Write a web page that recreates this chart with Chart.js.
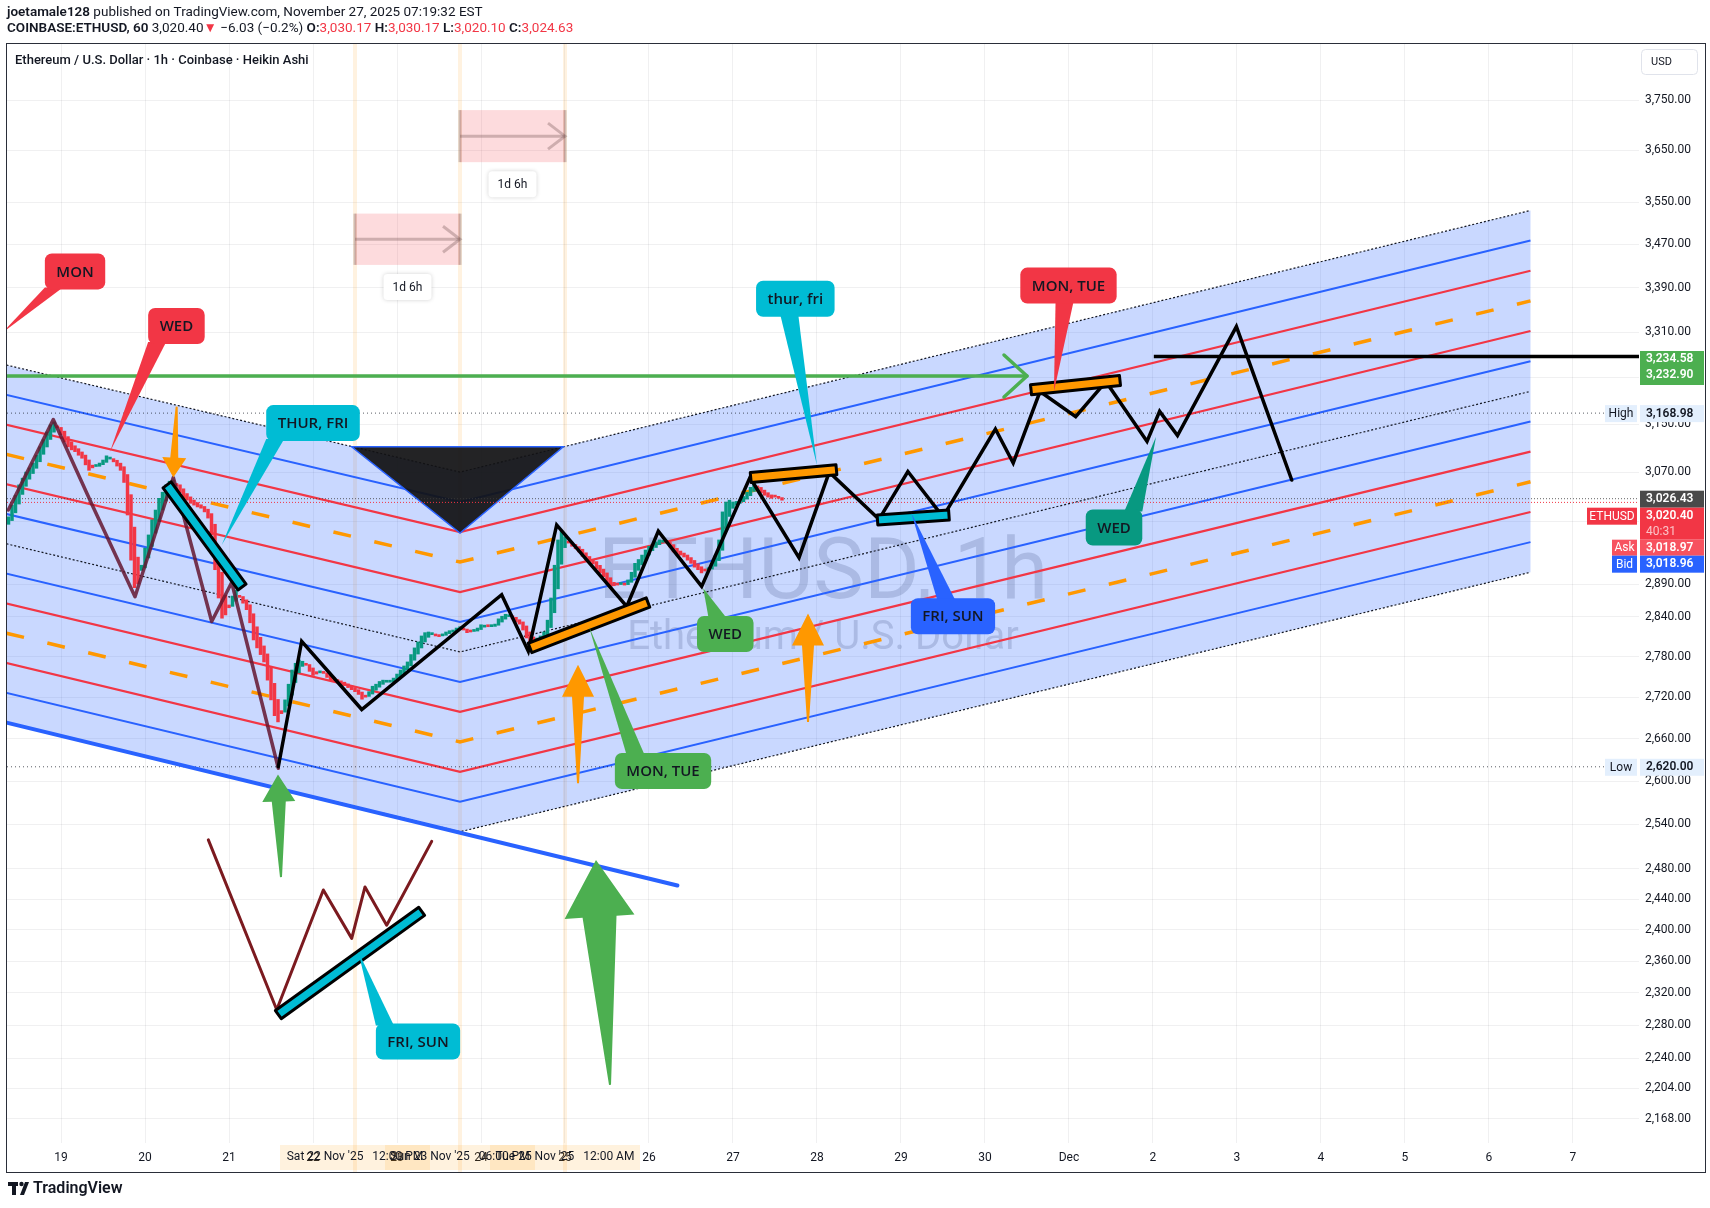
<!DOCTYPE html>
<html>
<head>
<meta charset="utf-8">
<script src="https://cdn.jsdelivr.net/npm/chart.js@4.4.1/dist/chart.umd.min.js"></script>
<style>
  html, body { margin: 0; padding: 0; background: #fff; overflow: hidden; }
  #wrap { width: 1710px; height: 1208px; }
</style>
</head>
<body>
<div id="wrap"><canvas id="chart" width="1710" height="1208"></canvas></div>
<script>
// ---------- data (days are November dates; 31 = Dec 1) ----------
const candleStart = 18.375;          // first hourly candle, Nov 18 09:00
const firstOpen = 2985;
const closes = [
  2997,3016,3032,3049,3060,3070,3077,3085,3098,3112,
  3124,3137,3149,3154,3144,3132,3120,3112,3107,3104,
  3098,3093,3082,3073,3077,3080,3085,3090,3097,3093,
  3087,3080,3073,3053,3000,2928,2885,2891,2920,2947,
  2968,2992,3008,3027,3037,3049,3055,3057,3047,3036,
  3027,3024,3019,3016,3013,3011,3005,2995,2968,2913,
  2869,2838,2843,2854,2872,2881,2870,2861,2851,2831,
  2805,2793,2783,2772,2745,2716,2693,2684,2696,2716,
  2739,2760,2770,2775,2773,2767,2758,2752,2754,2757,
  2755,2749,2745,2743,2742,2740,2737,2734,2731,2728,
  2724,2717,2720,2728,2736,2739,2743,2745,2742,2743,
  2748,2754,2760,2766,2772,2783,2793,2802,2811,2816,
  2817,2814,2811,2810,2813,2817,2819,2820,2823,2825,
  2820,2816,2817,2819,2823,2828,2826,2825,2826,2829,
  2837,2841,2844,2843,2837,2832,2829,2820,2808,2802,
  2800,2805,2811,2817,2835,2869,2920,2960,2974,2965,
  2955,2950,2946,2941,2934,2928,2925,2922,2914,2908,
  2902,2893,2886,2888,2889,2891,2889,2897,2909,2923,
  2929,2936,2944,2950,2953,2957,2960,2958,2955,2949,
  2941,2938,2936,2933,2928,2923,2917,2913,2908,2911,
  2916,2923,2936,2960,3005,3021,3024,3021,3022,3024,
  3030,3037,3045,3053,3044,3036,3032,3029,3027,3029,
  3027,3024
];

const dayTicks = [19,20,21,22,23,24,25,26,27,28,29,30,31,32,33,34,35,36,37];
const priceTicks = [3750,3650,3550,3470,3390,3310,3230,3150,3070,2990,2890,2840,2780,2720,2660,2600,2540,2480,2440,2400,2360,2320,2280,2240,2204,2168];

// V-shaped channel: left edge, apex, right end
const channelDays = [18.351, 23.75, 36.494];
const channelTop = [3252, 3070, 3534];
const channelBottom = [2683, 2530, 2909];
const channelStyles = ['dot','blue','red','orange','red','blue','dot','blue','red','orange','red','blue','dot'];

const trendDays = [18.351, 26.338];
const trendPrices = [2683, 2458];

const triDays = [22.46, 24.98, 23.75];
const triPrices = [3112, 3112, 2971];

const greenLevel = 3232.90, greenDays = [18.351, 30.5];
const blackLevel = 3267, blackDays = [32.01, 37.79];

const highPrice = 3168.98, lowPrice = 2620.00, lastClose = 3026.43, lastPrice = 3020.40;

const maroonDays = [18.373, 18.908, 19.385, 19.881, 20.337, 20.794, 21.032, 21.587];
const maroonPrices = [3008, 3158, 3012, 2871, 3061, 2833, 2893, 2618];

const wDays = [20.754, 21.568, 22.123, 22.461, 22.619, 22.877, 23.413];
const wPrices = [2519, 2299, 2452, 2389, 2456, 2406, 2517];

const pathDays = [21.587, 21.865, 22.580, 24.246, 24.563, 24.901, 25.735, 26.111, 26.627, 27.202, 27.786, 28.146, 28.738, 29.082, 29.500, 30.124, 30.336, 30.655, 31.080, 31.440, 31.929, 32.079, 32.292, 32.993, 33.652];
const pathPrices = [2620, 2803, 2702, 2874, 2788, 2984, 2856, 2974, 2887, 3061, 2932, 3070, 2993, 3071, 2997, 3142, 3085, 3206, 3163, 3223, 3121, 3172, 3131, 3320, 3057];

// highlighted slabs: start day/price, end day/price
const slabStartDay = [20.262, 24.583, 27.211, 28.720, 30.548, 21.587];
const slabStartPrice = [3049, 2793, 3061, 2992, 3209, 2293];
const slabEndDay = [21.155, 25.988, 28.231, 29.571, 31.607, 23.294];
const slabEndPrice = [2886, 2862, 3074, 3000, 3225, 2424];
const slabColor = ['#00bcd4', '#ff9800', '#ff9800', '#00bcd4', '#ff9800', '#00bcd4'];

// arrow markers: tail -> tip
const arrowTailDay = [20.377, 21.619, 25.536, 25.155, 27.893];
const arrowTailPrice = [3180, 2469, 2208, 2597, 2684];
const arrowTipDay = [20.337, 21.583, 25.369, 25.155, 27.893];
const arrowTipPrice = [3061, 2609, 2492, 2768, 2845];
const arrowColor = ['#ff9800', '#4caf50', '#4caf50', '#ff9800', '#ff9800'];
const arrowSize = [[20, 24, 8], [27, 33, 14], [57, 70, 34], [32, 32, 12], [32, 32, 12]];

// callouts
const calloutText = ['MON', 'WED', 'THUR, FRI', 'thur, fri', 'MON, TUE', 'FRI, SUN', 'WED', 'WED', 'MON, TUE', 'FRI, SUN'];
const calloutColor = ['#f23645', '#f23645', '#00bcd4', '#00bcd4', '#f23645', '#2962ff', '#089981', '#4caf50', '#4caf50', '#00bcd4'];
const calloutBoxDay = [19.167, 20.374, 22.0, 27.742, 30.994, 29.619, 31.536, 26.908, 26.167, 23.25];
const calloutBoxPrice = [3420, 3321, 3152, 3370, 3394, 2841, 2980, 2814, 2614, 2260];
const calloutTipDay = [18.30, 19.583, 20.913, 27.998, 30.821, 29.124, 32.036, 26.646, 25.286, 22.539];
const calloutTipPrice = [3309, 3104, 2952, 3082, 3206, 3003, 3129, 2884, 2825, 2372];
const calloutBase = [0, 0, 0, 0.4, 0.45, 0.4, 1, 0.3, 0.15, 0];

// date ranges (1d 6h)
const rangeStart = [22.5, 23.75];
const rangeEnd = [23.75, 25.0];
const rangeTop = [3528, 3730];
const rangeBottom = [3432, 3627];
const rangeLabel = '1d 6h';
const markerDays = [22.5, 23.75, 25.0];
const markerLabels = ["Sat 22 Nov '25   12:00 PM", "Sun 23 Nov '25   06:00 PM", "Tue 25 Nov '25   12:00 AM"];

// ---------- candles (Heikin Ashi opens) ----------
const opens = [];
closes.forEach((c, i) => {
  opens.push(i === 0 ? firstOpen : (opens[i - 1] + closes[i - 1]) / 2);
});
const UP = '#089981', DOWN = '#f23645';
const candleData = closes.map((c, i) => ({ x: candleStart + i / 24, y: [opens[i], c] }));
const candleColors = closes.map((c, i) => c >= opens[i] ? UP : DOWN);

const fmt = v => v.toLocaleString('en-US', { minimumFractionDigits: 2, maximumFractionDigits: 2 });
const dayLabel = d => d === 31 ? 'Dec' : String(d > 31 ? d - 30 : d);
const TEXT = '#131722';

function rrect(ctx, x, y, w, h, r) {
  ctx.beginPath();
  ctx.moveTo(x + r, y);
  ctx.arcTo(x + w, y, x + w, y + h, r);
  ctx.arcTo(x + w, y + h, x, y + h, r);
  ctx.arcTo(x, y + h, x, y, r);
  ctx.arcTo(x, y, x + w, y, r);
  ctx.closePath();
}

function polyline(ctx, pts) {
  ctx.beginPath();
  pts.forEach((p, i) => i ? ctx.lineTo(p[0], p[1]) : ctx.moveTo(p[0], p[1]));
}

function arrowShape(ctx, x0, y0, x1, y1, size, color) {
  const [headLen, headW, shaftW] = size;
  const L = Math.hypot(x1 - x0, y1 - y0);
  const ux = (x1 - x0) / L, uy = (y1 - y0) / L, nx = -uy, ny = ux;
  const bx = x1 - ux * headLen, by = y1 - uy * headLen;
  polyline(ctx, [
    [x0 + nx, y0 + ny],
    [bx + nx * shaftW / 2, by + ny * shaftW / 2],
    [bx + nx * headW / 2, by + ny * headW / 2],
    [x1, y1],
    [bx - nx * headW / 2, by - ny * headW / 2],
    [bx - nx * shaftW / 2, by - ny * shaftW / 2],
    [x0 - nx, y0 - ny]
  ]);
  ctx.closePath();
  ctx.fillStyle = color;
  ctx.fill();
}

function slab(ctx, x0, y0, x1, y1, color) {
  const L = Math.hypot(x1 - x0, y1 - y0);
  const nx = -(y1 - y0) / L * 5, ny = (x1 - x0) / L * 5;
  polyline(ctx, [[x0 + nx, y0 + ny], [x1 + nx, y1 + ny], [x1 - nx, y1 - ny], [x0 - nx, y0 - ny]]);
  ctx.closePath();
  ctx.fillStyle = color;
  ctx.fill();
  ctx.lineWidth = 3;
  ctx.lineJoin = 'round';
  ctx.strokeStyle = '#000';
  ctx.stroke();
}

const drawings = {
  id: 'drawings',
  beforeDatasetsDraw(chart) {
    const { ctx, chartArea: a, scales: { x, y } } = chart;
    const P = (d, p) => [x.getPixelForValue(d), y.getPixelForValue(p)];
    ctx.save();

    // session marker lines, down into the time axis
    ctx.fillStyle = 'rgba(255,152,0,0.12)';
    markerDays.forEach(d => ctx.fillRect(x.getPixelForValue(d) - 2, a.top, 4, 1172 - a.top));

    ctx.beginPath();
    ctx.rect(a.left, a.top, a.right - a.left, a.bottom - a.top);
    ctx.clip();

    // watermark
    const cx = (a.left + a.right) / 2, cy = (a.top + a.bottom) / 2;
    ctx.fillStyle = 'rgba(120,123,134,0.3)';
    ctx.textAlign = 'center';
    ctx.textBaseline = 'alphabetic';
    ctx.font = '85px Roboto';
    ctx.fillText('ETHUSD, 1h', cx, cy + 4);
    ctx.font = '40px Roboto';
    ctx.fillText('Ethereum / U.S. Dollar', cx, cy + 55);

    // date ranges
    rangeStart.forEach((d0, i) => {
      const [xa, ya] = P(d0, rangeTop[i]);
      const [xb, yb] = P(rangeEnd[i], rangeBottom[i]);
      ctx.fillStyle = 'rgba(242,54,69,0.18)';
      ctx.fillRect(xa, ya, xb - xa, yb - ya);
      ctx.strokeStyle = 'rgba(120,90,90,0.35)';
      ctx.lineWidth = 3;
      const ym = (ya + yb) / 2;
      polyline(ctx, [[xa, ya], [xa, yb]]); ctx.stroke();
      polyline(ctx, [[xb, ya], [xb, yb]]); ctx.stroke();
      polyline(ctx, [[xa, ym], [xb, ym]]); ctx.stroke();
      polyline(ctx, [[xb - 17, ym - 13], [xb, ym], [xb - 17, ym + 13]]); ctx.stroke();
      const lx = (xa + xb) / 2, ly = yb + 22;
      ctx.save();
      ctx.shadowColor = 'rgba(0,0,0,0.18)';
      ctx.shadowBlur = 4;
      ctx.fillStyle = '#fff';
      rrect(ctx, lx - 24, ly - 13, 48, 26, 4);
      ctx.fill();
      ctx.restore();
      ctx.fillStyle = TEXT;
      ctx.font = '12px Roboto';
      ctx.textBaseline = 'middle';
      ctx.fillText(rangeLabel, lx, ly + 1);
    });

    // channel fill
    const top = channelDays.map((d, j) => P(d, channelTop[j]));
    const bot = channelDays.map((d, j) => P(d, channelBottom[j]));
    polyline(ctx, top.concat(bot.slice().reverse()));
    ctx.closePath();
    ctx.fillStyle = 'rgba(41,98,255,0.25)';
    ctx.fill();

    // channel levels
    channelStyles.forEach((st, k) => {
      const pts = top.map((p, j) => [p[0], p[1] + (bot[j][1] - p[1]) * k / 12]);
      polyline(ctx, pts);
      if (st === 'dot') { ctx.strokeStyle = TEXT; ctx.lineWidth = 1.2; ctx.setLineDash([2, 2]); }
      if (st === 'blue') { ctx.strokeStyle = '#2962ff'; ctx.lineWidth = 2; ctx.setLineDash([]); }
      if (st === 'red') { ctx.strokeStyle = '#f23645'; ctx.lineWidth = 2.2; ctx.setLineDash([]); }
      if (st === 'orange') { ctx.strokeStyle = '#ff9800'; ctx.lineWidth = 3.5; ctx.setLineDash([18, 24]); }
      ctx.stroke();
    });
    ctx.setLineDash([]);

    // black triangle
    polyline(ctx, triDays.map((d, j) => P(d, triPrices[j])));
    ctx.closePath();
    ctx.fillStyle = 'rgba(18,18,20,0.93)';
    ctx.fill();
    ctx.strokeStyle = '#2962ff';
    ctx.lineWidth = 1.5;
    ctx.stroke();

    // high / low / last price lines
    const hline = (p, color, dash) => {
      const yy = y.getPixelForValue(p);
      ctx.strokeStyle = color; ctx.lineWidth = 1; ctx.setLineDash(dash);
      polyline(ctx, [[a.left, yy], [a.right, yy]]); ctx.stroke();
    };
    hline(highPrice, 'rgba(19,23,34,0.7)', [1, 3]);
    hline(lowPrice, 'rgba(19,23,34,0.7)', [1, 3]);
    hline(lastClose, 'rgba(60,60,60,0.8)', [1, 2]);
    hline(lastPrice, '#f23645', [1, 2]);
    ctx.setLineDash([]);
    ctx.restore();
  },

  afterDatasetsDraw(chart) {
    const { ctx, chartArea: a, scales: { x, y } } = chart;
    const P = (d, p) => [x.getPixelForValue(d), y.getPixelForValue(p)];
    ctx.save();
    ctx.beginPath();
    ctx.rect(a.left, a.top, a.right - a.left, a.bottom - a.top);
    ctx.clip();
    ctx.lineJoin = 'round';
    ctx.lineCap = 'round';

    // lower trend line
    polyline(ctx, trendDays.map((d, j) => P(d, trendPrices[j])));
    ctx.strokeStyle = '#2962ff'; ctx.lineWidth = 4; ctx.stroke();

    // green level with chevron
    const g0 = P(greenDays[0], greenLevel), g1 = P(greenDays[1], greenLevel);
    ctx.strokeStyle = '#4caf50'; ctx.lineWidth = 3.5;
    polyline(ctx, [g0, g1]); ctx.stroke();
    polyline(ctx, [[g1[0] - 23, g1[1] - 21], g1, [g1[0] - 23, g1[1] + 21]]); ctx.stroke();

    // black level
    ctx.strokeStyle = '#000'; ctx.lineWidth = 3.5; ctx.lineCap = 'butt';
    polyline(ctx, [P(blackDays[0], blackLevel), P(blackDays[1], blackLevel)]); ctx.stroke();
    ctx.lineCap = 'round';

    // maroon zigzags
    polyline(ctx, maroonDays.map((d, j) => P(d, maroonPrices[j])));
    ctx.strokeStyle = 'rgba(100,22,48,0.85)'; ctx.lineWidth = 3.5; ctx.stroke();
    polyline(ctx, wDays.map((d, j) => P(d, wPrices[j])));
    ctx.strokeStyle = '#7b1a1f'; ctx.lineWidth = 3; ctx.stroke();

    // projected path
    polyline(ctx, pathDays.map((d, j) => P(d, pathPrices[j])));
    ctx.strokeStyle = '#000'; ctx.lineWidth = 3.5; ctx.lineJoin = 'miter'; ctx.stroke();
    ctx.lineJoin = 'round';

    // slabs
    slabStartDay.forEach((d, i) => {
      const p0 = P(d, slabStartPrice[i]), p1 = P(slabEndDay[i], slabEndPrice[i]);
      slab(ctx, p0[0], p0[1], p1[0], p1[1], slabColor[i]);
    });

    // arrows
    arrowTailDay.forEach((d, i) => {
      const t0 = P(d, arrowTailPrice[i]), t1 = P(arrowTipDay[i], arrowTipPrice[i]);
      arrowShape(ctx, t0[0], t0[1], t1[0], t1[1], arrowSize[i], arrowColor[i]);
    });

    // callouts
    ctx.font = '600 15px "Open Sans"';
    calloutText.forEach((t, i) => {
      const [bx, by] = P(calloutBoxDay[i], calloutBoxPrice[i]);
      const [tx, ty] = P(calloutTipDay[i], calloutTipPrice[i]);
      const w = ctx.measureText(t).width + 23, h = 36;
      const x1 = bx - w / 2, y1 = by - h / 2;
      const bw = 18;
      const ex = x1 + calloutBase[i] * (w - bw);
      const ey = ty > by ? y1 + h - 2 : y1 + 2;
      ctx.fillStyle = calloutColor[i];
      polyline(ctx, [[ex, ey], [tx, ty], [ex + bw, ey]]);
      ctx.closePath(); ctx.fill();
      rrect(ctx, x1, y1, w, h, 7);
      ctx.fill();
      ctx.fillStyle = TEXT;
      ctx.textAlign = 'center';
      ctx.textBaseline = 'middle';
      ctx.fillText(t, bx, by + 1);
    });
    ctx.restore();
  },

  afterDraw(chart) {
    const { ctx, chartArea: a, scales: { x, y } } = chart;
    ctx.save();
    const ax = a.right + 1, aw = 64;

    // price axis labels
    const tag = (yc, h, bg, lines, fg) => {
      ctx.fillStyle = bg;
      ctx.fillRect(ax, yc, aw, h);
      ctx.fillStyle = fg;
      ctx.font = '600 12px Roboto';
      ctx.textAlign = 'left';
      ctx.textBaseline = 'middle';
      lines.forEach((l, k) => {
        if (k === 1 && l === '40:31') { ctx.fillStyle = 'rgba(255,255,255,0.7)'; ctx.font = '12px Roboto'; }
        ctx.fillText(l, ax + 6, yc + 8.5 + k * 16);
      });
    };
    const side = (yc, h, x0, bg, label, fg) => {
      ctx.fillStyle = bg;
      ctx.fillRect(x0, yc, a.right - 2 - x0, h);
      ctx.fillStyle = fg;
      ctx.font = '12px Roboto';
      ctx.textAlign = 'center';
      ctx.textBaseline = 'middle';
      ctx.fillText(label, (x0 + a.right - 2) / 2, yc + h / 2 + 0.5);
    };
    const yg = y.getPixelForValue(greenLevel);
    tag(yg - 25, 34, '#4caf50', [fmt(3234.58), fmt(greenLevel)], '#fff');
    const yh = y.getPixelForValue(highPrice);
    tag(yh - 8, 17, '#e3effd', [fmt(highPrice)], TEXT);
    side(yh - 8, 17, 1605, '#e3effd', 'High', TEXT);
    const yl = y.getPixelForValue(lowPrice);
    tag(yl - 8, 17, '#e3effd', [fmt(lowPrice)], TEXT);
    side(yl - 8, 17, 1605, '#e3effd', 'Low', TEXT);
    const yc = y.getPixelForValue(lastClose);
    tag(yc - 8, 17, '#4a4a4a', [fmt(lastClose)], '#fff');
    tag(yc + 9, 32, '#f23645', [fmt(lastPrice), '40:31'], '#fff');
    side(yc + 9, 17, 1587, '#f23645', 'ETHUSD', '#fff');
    tag(yc + 41, 16, '#f7525f', [fmt(3018.97)], '#fff');
    side(yc + 41, 16, 1612, '#f7525f', 'Ask', '#fff');
    tag(yc + 57, 17, '#2962ff', [fmt(3018.96)], '#fff');
    side(yc + 57, 17, 1612, '#2962ff', 'Bid', '#fff');

    // USD box
    ctx.fillStyle = '#fff';
    rrect(ctx, 1641.5, 49.5, 56, 25, 4);
    ctx.fill();
    ctx.strokeStyle = '#e0e3eb'; ctx.lineWidth = 1; ctx.stroke();
    ctx.fillStyle = TEXT; ctx.font = '11px Roboto'; ctx.textAlign = 'left'; ctx.textBaseline = 'middle';
    ctx.fillText('USD', 1651, 62);

    // time axis markers
    ctx.font = '12px Roboto';
    ctx.textAlign = 'center';
    markerDays.forEach((d, i) => {
      const px = x.getPixelForValue(d);
      ctx.fillStyle = 'rgba(255,152,0,0.13)';
      ctx.fillRect(px - 75, a.bottom + 2, 150, 25);
    });
    markerDays.forEach((d, i) => {
      ctx.fillStyle = TEXT;
      ctx.fillText(markerLabels[i], x.getPixelForValue(d), 1157);
    });

    // chart title
    ctx.textAlign = 'left';
    ctx.fillStyle = TEXT;
    ctx.font = '500 13px Roboto';
    ctx.fillText('Ethereum / U.S. Dollar · 1h · Coinbase · Heikin Ashi', 15, 61);

    // header lines
    let hx = 7;
    const seg = (t, font, color, yy) => {
      ctx.font = font; ctx.fillStyle = color; ctx.fillText(t, hx, yy); hx += ctx.measureText(t).width;
    };
    ctx.textBaseline = 'middle';
    seg('joetamale128', '600 13.5px Roboto', TEXT, 13);
    seg(' published on TradingView.com, November 27, 2025 07:19:32 EST', '13.5px Roboto', TEXT, 13);
    hx = 7;
    const RD = '#f23645';
    seg('COINBASE:ETHUSD, 60', '600 13.5px Roboto', TEXT, 29);
    seg(' 3,020.40', '13.5px Roboto', TEXT, 29);
    seg('▼', '13.5px Roboto', RD, 29);
    seg(' \u22126.03 (\u22120.2%) ', '13.5px Roboto', TEXT, 29);
    [['O:', '3,030.17 '], ['H:', '3,030.17 '], ['L:', '3,020.10 '], ['C:', '3,024.63']].forEach(([k, v]) => {
      seg(k, '600 13.5px Roboto', TEXT, 29);
      seg(v, '13.5px Roboto', RD, 29);
    });

    // frame
    ctx.strokeStyle = '#2a2e39';
    ctx.lineWidth = 1;
    ctx.strokeRect(6.5, 43.5, 1699, 1129);

    // TradingView logo
    ctx.fillStyle = '#131722';
    ctx.fillRect(8, 1182, 10, 4);
    ctx.fillRect(12, 1182, 4, 13);
    ctx.beginPath(); ctx.arc(21.5, 1184, 2.2, 0, Math.PI * 2); ctx.fill();
    polyline(ctx, [[20, 1195], [25, 1182], [29, 1182], [24, 1195]]); ctx.closePath(); ctx.fill();
    ctx.font = '600 16px Roboto';
    ctx.textBaseline = 'middle';
    ctx.fillText('TradingView', 33, 1189);
    ctx.restore();
  }
};

new Chart(document.getElementById('chart'), {
  type: 'bar',
  data: {
    datasets: [{
      data: candleData,
      backgroundColor: candleColors,
      borderWidth: 0,
      barThickness: 2.8,
      minBarLength: 2
    }]
  },
  options: {
    responsive: false,
    animation: false,
    devicePixelRatio: 1,
    layout: { padding: { left: 7, top: 44, right: 5, bottom: 36 } },
    plugins: { legend: { display: false }, tooltip: { enabled: false } },
    scales: {
      x: {
        type: 'linear',
        position: 'bottom',
        min: 18.357,
        max: 37.786,
        offset: false,
        afterBuildTicks: s => { s.ticks = dayTicks.map(v => ({ value: v })); },
        afterFit: s => { s.height = 29; },
        ticks: {
          color: TEXT, font: { size: 12, family: 'Roboto' }, padding: 8,
          maxRotation: 0, autoSkip: false, callback: v => dayLabel(v)
        },
        grid: { color: 'rgba(42,46,57,0.07)', drawTicks: false, offset: false },
        border: { display: false }
      },
      y: {
        type: 'logarithmic',
        position: 'right',
        min: 2140,
        max: 3865,
        afterBuildTicks: s => { s.ticks = priceTicks.map(v => ({ value: v })); },
        afterFit: s => { s.width = 66; },
        ticks: {
          color: TEXT, font: { size: 12, family: 'Roboto' }, padding: 6,
          autoSkip: false, callback: v => fmt(v)
        },
        grid: { color: 'rgba(42,46,57,0.07)', drawTicks: false },
        border: { display: false }
      }
    }
  },
  plugins: [drawings]
});
</script>
</body>
</html>
